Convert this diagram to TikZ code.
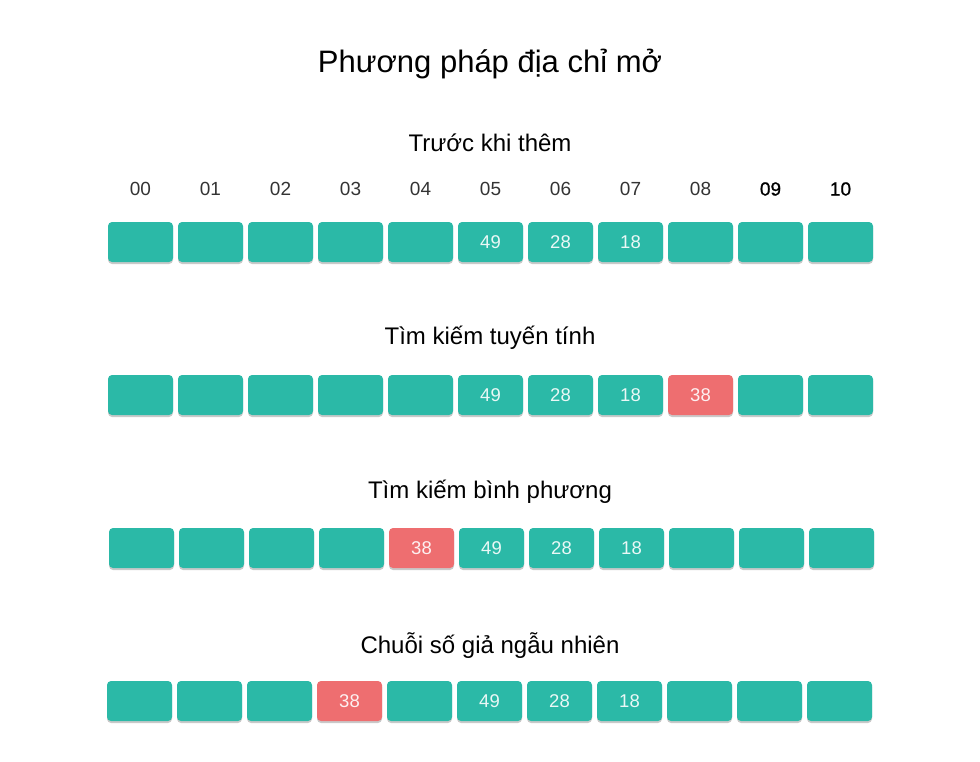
\documentclass[tikz,border=0pt]{standalone}
\usepackage{fontspec}
\setmainfont{Liberation Sans}
\newfontfamily\semib[FakeBold=0.8]{Liberation Sans}
\usetikzlibrary{shadows}
\definecolor{teal1}{HTML}{2BB9A7}
\definecolor{red1}{HTML}{EE6E70}
\definecolor{lbl}{HTML}{333333}
\begin{document}
\begin{tikzpicture}[x=1pt,y=-1pt,
  cell/.style={rounded corners=4pt, fill=teal1, minimum width=65pt, minimum height=40pt, inner sep=0pt,
    text=white!90!teal1, font=\fontsize{18.5}{18.5}\selectfont,
    drop shadow={shadow xshift=0pt, shadow yshift=-2pt, opacity=0.3, fill=black!70}},
  hit/.style={cell, fill=red1, text=white!90!red1},
  idx/.style={font=\fontsize{19}{19}\selectfont, text=lbl},
  idxb/.style={font=\fontsize{19}{19}\selectfont\semib, text=black},
  sub/.style={font=\fontsize{24}{24}\selectfont, text=black},
  ttl/.style={font=\fontsize{31}{31}\selectfont, text=black}]
\useasboundingbox (0,0) rectangle (980,761);
\node[ttl] (title) at (490,64) {Phương pháp địa chỉ mở};
\node[sub] (s1) at (490,143) {Trước khi thêm};
\node[sub] (s2) at (490,338) {Tìm kiếm tuyến tính};
\node[sub] (s3) at (490,492) {Tìm kiếm bình phương};
\node[sub] (s4) at (490,646) {Chuỗi số giả ngẫu nhiên};
\foreach \i/\t in {0/00,1/01,2/02,3/03,4/04,5/05,6/06,7/07,8/08}
  \node[idx] (l\i) at (140.5+70*\i,189) {\t};
\node[idxb] (l9) at (770.5,189) {09};
\node[idxb] (l10) at (840.5,189) {10};
% row 1
\foreach \i in {0,...,10} {
  \ifnum\i=5 \def\v{49}\else\ifnum\i=6 \def\v{28}\else\ifnum\i=7 \def\v{18}\else\def\v{}\fi\fi\fi
  \node[cell] (a\i) at (140.5+70*\i,242) {\v};
}
% row 2
\foreach \i in {0,...,10} {
  \ifnum\i=5 \def\v{49}\else\ifnum\i=6 \def\v{28}\else\ifnum\i=7 \def\v{18}\else\def\v{}\fi\fi\fi
  \ifnum\i=8 \node[hit] (b\i) at (140.5+70*\i,395) {38};
  \else \node[cell] (b\i) at (140.5+70*\i,395) {\v};\fi
}
% row 3
\foreach \i in {0,...,10} {
  \ifnum\i=5 \def\v{49}\else\ifnum\i=6 \def\v{28}\else\ifnum\i=7 \def\v{18}\else\def\v{}\fi\fi\fi
  \ifnum\i=4 \node[hit] (c\i) at (141.5+70*\i,548) {38};
  \else \node[cell] (c\i) at (141.5+70*\i,548) {\v};\fi
}
% row 4
\foreach \i in {0,...,10} {
  \ifnum\i=5 \def\v{49}\else\ifnum\i=6 \def\v{28}\else\ifnum\i=7 \def\v{18}\else\def\v{}\fi\fi\fi
  \ifnum\i=3 \node[hit] (d\i) at (139.5+70*\i,701) {38};
  \else \node[cell] (d\i) at (139.5+70*\i,701) {\v};\fi
}
\end{tikzpicture}
\end{document}
